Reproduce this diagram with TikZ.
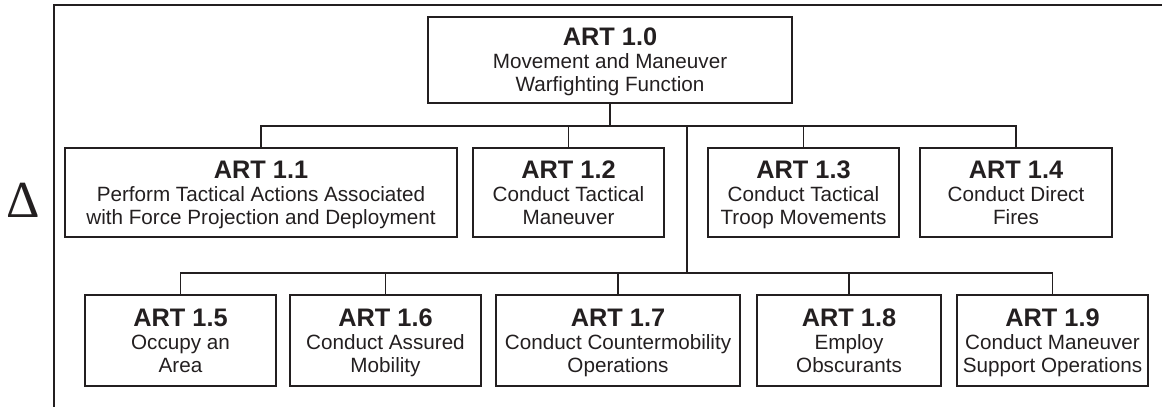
\documentclass[tikz,border=0pt]{standalone}
\usepackage{fontspec}
\setmainfont{Liberation Sans}
\newfontfamily\deltafont{Liberation Serif}
\usetikzlibrary{calc}
\definecolor{ink}{RGB}{35,31,32}
\newcommand{\arttitle}[1]{{\bfseries\fontsize{19}{17.25}\selectfont ART #1}}
\tikzset{
	artbox/.style={draw=ink, line width=1.1pt, text=ink, align=center, inner sep=0pt,
		minimum height=66.75pt, text depth=0pt,
		font=\fontsize{15.5}{17.25}\selectfont},
	link/.style={draw=ink, line width=1.1pt},
}

\begin{document}
\begin{tikzpicture}[x=0.75pt,y=-0.75pt]
		\useasboundingbox (0,0) rectangle (1162,407);
		\draw[link] (1162,5) -| (54,407);
		\node[text=ink,font=\deltafont\fontsize{39}{40}\selectfont] (delta) at (23,200) {Δ};
		% top
		\node[artbox,minimum width=273pt,minimum height=64.5pt] (art10) at (610,60) {\arttitle{1.0}\\Movement and Maneuver\\Warfighting Function};
		% first row
		\node[artbox,minimum width=294pt] (art11) at (261,192.5) {\arttitle{1.1}\\Perform Tactical Actions Associated\\with Force Projection and Deployment};
		\node[artbox,minimum width=143.25pt] (art12) at (568.5,192.5) {\arttitle{1.2}\\Conduct Tactical\\Maneuver};
		\node[artbox,minimum width=143.25pt] (art13) at (803.5,192.5) {\arttitle{1.3}\\Conduct Tactical\\Troop Movements};
		\node[artbox,minimum width=144pt] (art14) at (1016,192.5) {\arttitle{1.4}\\Conduct Direct\\Fires};
		% second row
		\node[artbox,minimum width=143.25pt,minimum height=68.25pt] (art15) at (180.5,340.5) {\arttitle{1.5}\\Occupy an\\Area};
		\node[artbox,minimum width=143.25pt,minimum height=68.25pt] (art16) at (385.5,340.5) {\arttitle{1.6}\\Conduct Assured\\Mobility};
		\node[artbox,minimum width=183pt,minimum height=68.25pt] (art17) at (618,340.5) {\arttitle{1.7}\\Conduct Countermobility\\Operations};
		\node[artbox,minimum width=138pt,minimum height=68.25pt] (art18) at (849,340.5) {\arttitle{1.8}\\Employ\\Obscurants};
		\node[artbox,minimum width=143.25pt,minimum height=68.25pt] (art19) at (1052.5,340.5) {\arttitle{1.9}\\Conduct Maneuver\\Support Operations};
		% lines
		\coordinate (bus1) at (0,126);
		\coordinate (bus2) at (0,273);
		\coordinate (trunk) at (687,126);
		\draw[link] (art10.south) -- (art10.south |- bus1);
		\draw[link] (art11.north) |- (bus1 -| art14.north) -- (art14.north);
		\foreach \n in {12,13}
			\draw[link] (art\n.north) -- (art\n.north |- bus1);
		\draw[link] (trunk) -- (trunk |- bus2);
		\draw[link] (art15.north) |- (bus2 -| art19.north) -- (art19.north);
		\foreach \n in {16,17,18}
			\draw[link] (art\n.north) -- (art\n.north |- bus2);
	\end{tikzpicture}
\end{document}
